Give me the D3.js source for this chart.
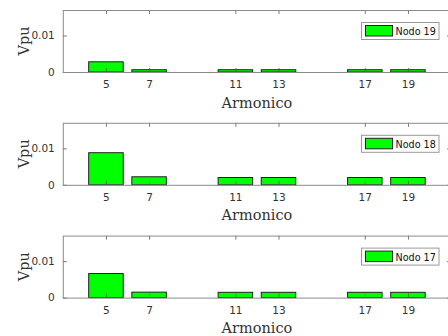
<!DOCTYPE html>
<html>
<head>
<meta charset="utf-8">
<script src="https://cdn.jsdelivr.net/npm/d3@7"></script>
<style>
  html, body { margin: 0; padding: 0; background: #fff; }
  svg { display: block; }
</style>
</head>
<body>
<svg id="chart" width="448" height="336"></svg>
<script>
// Harmonic orders on the x axis
const harmonics = [5, 7, 11, 13, 17, 19];
const xTicks = [5, 7, 11, 13, 17, 19];
const yTicks = [0, 0.01];
const yTickLabels = ["0", "0.01"];

// Harmonic voltage (p.u.) per node
const nodo19 = [0.0028, 0.00063, 0.00063, 0.00063, 0.00063, 0.00063];
const nodo18 = [0.0088, 0.0022, 0.0020, 0.0020, 0.0020, 0.0020];
const nodo17 = [0.0066, 0.0015, 0.00145, 0.00145, 0.00145, 0.00145];

const panels = [
  { name: "Nodo 19", values: nodo19 },
  { name: "Nodo 18", values: nodo18 },
  { name: "Nodo 17", values: nodo17 }
];

const svg = d3.select("#chart");
const left = 62.8, right = 451.1;
const plotH = 62, firstTop = 10, step = 112.8;
const axisColor = "#8a8a8a";
const textColor = "#333";
const tickLen = 4;

const x = d3.scaleLinear().domain([3, 21]).range([left, right]);
const barW = x(3 + 1.6) - x(3);

panels.forEach((p, i) => {
  const top = firstTop + i * step;
  const bottom = top + plotH;
  const y = d3.scaleLinear().domain([0, 0.017]).range([bottom, top]);
  const g = svg.append("g");

  // bars
  g.selectAll("rect.bar")
    .data(harmonics.map((h, k) => ({ h, v: p.values[k] })))
    .enter().append("rect")
    .attr("class", "bar")
    .attr("x", d => x(d.h) - barW / 2)
    .attr("width", barW)
    .attr("y", d => y(d.v))
    .attr("height", d => y(0) - y(d.v))
    .attr("fill", "#00ff00")
    .attr("stroke", "#222")
    .attr("stroke-width", 1);

  // bottom axis with inward ticks
  const xb = g.append("g").attr("transform", `translate(0,${bottom})`)
    .call(d3.axisBottom(x).tickValues(xTicks).tickSize(-tickLen).tickSizeOuter(0).tickPadding(9));
  // top axis ticks only
  const xt = g.append("g").attr("transform", `translate(0,${top})`)
    .call(d3.axisTop(x).tickValues(xTicks).tickSize(-tickLen).tickSizeOuter(0).tickFormat(""));
  // left axis
  const yl = g.append("g").attr("transform", `translate(${left},0)`)
    .call(d3.axisLeft(y).tickValues(yTicks).tickSize(-tickLen).tickSizeOuter(0).tickPadding(8)
      .tickFormat((d, k) => yTickLabels[k]));
  // right axis ticks only
  const yr = g.append("g").attr("transform", `translate(${right},0)`)
    .call(d3.axisRight(y).tickValues(yTicks).tickSize(-tickLen).tickSizeOuter(0).tickFormat(""));

  [xb, xt, yl, yr].forEach(a => {
    a.select(".domain").remove();
    a.selectAll(".tick line").attr("stroke", "#555").attr("stroke-width", 0.8);
    a.selectAll(".tick text")
      .attr("font-family", "'DejaVu Sans', sans-serif")
      .attr("font-size", 10.5)
      .attr("fill", textColor);
  });

  // box
  g.append("rect")
    .attr("x", left + 0.5).attr("y", top + 0.5)
    .attr("width", right - left).attr("height", plotH)
    .attr("fill", "none").attr("stroke", axisColor).attr("stroke-width", 1);

  // axis titles
  g.append("text")
    .attr("x", (left + right) / 2).attr("y", bottom + 35.5)
    .attr("text-anchor", "middle")
    .attr("font-family", "'DejaVu Serif', serif")
    .attr("font-size", 14.5)
    .attr("fill", textColor)
    .text("Armonico");

  g.append("text")
    .attr("transform", `translate(28.5,${(top + bottom) / 2}) rotate(-90)`)
    .attr("text-anchor", "middle")
    .attr("font-family", "'DejaVu Serif', serif")
    .attr("font-size", 14.5)
    .attr("fill", textColor)
    .text("Vpu");

  // legend
  const lg = g.append("g").attr("transform", `translate(361.5,${top + 12.5})`);
  lg.append("rect").attr("width", 77.5).attr("height", 17)
    .attr("fill", "#fff").attr("stroke", "#999").attr("stroke-width", 1);
  lg.append("rect").attr("x", 4).attr("y", 3).attr("width", 27).attr("height", 10.5)
    .attr("fill", "#00ff00").attr("stroke", "#222").attr("stroke-width", 1);
  lg.append("text").attr("x", 34).attr("y", 12.5)
    .attr("font-family", "'DejaVu Sans', sans-serif")
    .attr("font-size", 9.6)
    .attr("fill", "#111")
    .text(p.name);
});
</script>
</body>
</html>
